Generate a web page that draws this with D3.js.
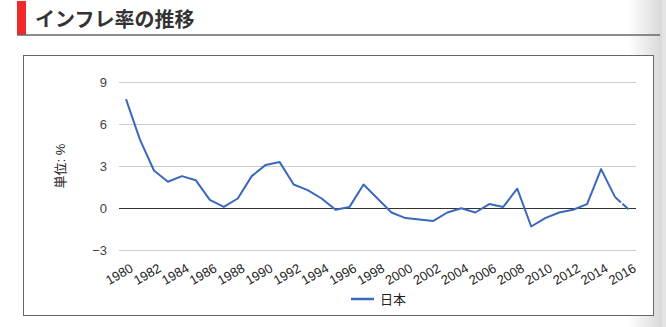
<!DOCTYPE html>
<html><head><meta charset="utf-8">
<script src="https://cdn.jsdelivr.net/npm/d3@7"></script>
<style>
html,body{margin:0;padding:0;background:#fff;overflow:hidden;}
svg{display:block;}
</style></head>
<body>
<svg id="c" width="666" height="327"></svg>
<script>
const title = "インフレ率の推移";
const years = ["1980","1981","1982","1983","1984","1985","1986","1987","1988","1989","1990","1991","1992","1993","1994","1995","1996","1997","1998","1999","2000","2001","2002","2003","2004","2005","2006","2007","2008","2009","2010","2011","2012","2013","2014","2015","2016"];
const japan = [7.8,4.9,2.7,1.9,2.3,2.0,0.6,0.1,0.7,2.3,3.1,3.3,1.7,1.3,0.7,-0.1,0.1,1.7,0.7,-0.3,-0.7,-0.8,-0.9,-0.3,0.0,-0.3,0.3,0.1,1.4,-1.3,-0.7,-0.3,-0.1,0.3,2.8,0.8,-0.1];
const yTicks = [-3,0,3,6,9];
const seriesName = "日本";
const yTitle = "単位: %";

const svg = d3.select("#c");
const font = "'Liberation Sans', Arial, 'Noto Sans CJK JP', sans-serif";
const lineColor = "#3a68bd";

// right-side shadow
const defs = svg.append("defs");
const g1 = defs.append("linearGradient").attr("id","sh").attr("x1","0").attr("x2","1");
g1.append("stop").attr("offset","0").attr("stop-color","#fff");
g1.append("stop").attr("offset","1").attr("stop-color","#d8d8d8");
svg.append("rect").attr("x",628).attr("y",0).attr("width",34).attr("height",327).attr("fill","url(#sh)");
svg.append("rect").attr("x",662).attr("y",0).attr("width",4).attr("height",327).attr("fill","#e4e4e4");

// header
svg.append("rect").attr("x",17).attr("y",1).attr("width",9).attr("height",34).attr("fill","#ee2a2a");
svg.append("line").attr("x1",17).attr("x2",660).attr("y1",35).attr("y2",35).attr("stroke","#666").attr("stroke-width",1.5);
svg.append("text").attr("x",35).attr("y",27).text(title)
  .attr("font-family","'Noto Sans CJK JP', sans-serif").attr("font-weight","bold")
  .attr("font-size",20).attr("fill","#333");

// chart box
svg.append("rect").attr("x",23.5).attr("y",55.5).attr("width",630).attr("height",260)
  .attr("fill","#fff").attr("stroke","#666").attr("stroke-width",1);

const x = d3.scalePoint().domain(years).range([119,636]).padding(0.5);
const y = d3.scaleLinear().domain([-3,9]).range([250.3,82.3]);

// gridlines
const grid = svg.append("g");
yTicks.forEach(t=>{
  grid.append("line").attr("x1",119).attr("x2",636).attr("y1",Math.round(y(t))+0.5).attr("y2",Math.round(y(t))+0.5)
    .attr("stroke", t===0 ? "#333" : "#ccc").attr("stroke-width",1);
});

// y axis labels via d3 axis
const yAxis = d3.axisLeft(y).tickValues(yTicks).tickSize(0).tickPadding(0).tickFormat(d3.format("d"));
const ya = svg.append("g").attr("transform","translate(107,0)").call(yAxis);
ya.select(".domain").remove();
ya.selectAll("text").attr("font-family",font).attr("font-size",13).attr("fill","#444").attr("dy","0.35em");

// x axis labels
const xAxis = d3.axisBottom(x).tickValues(years.filter((d,i)=>i%2===0)).tickSize(0).tickPadding(0);
const xa = svg.append("g").attr("transform","translate(0,263)").call(xAxis);
xa.select(".domain").remove();
xa.selectAll("text").attr("font-family",font).attr("font-size",13).attr("fill","#222")
  .attr("text-anchor","end").attr("dy","0.7em")
  .attr("transform","translate(3,0) rotate(-30)");

// y title
svg.append("text").attr("transform","translate(65,166) rotate(-90)").attr("text-anchor","middle")
  .attr("font-family",font).attr("font-size",13).attr("fill","#222").text(yTitle);

// line
const pts = years.map((d,i)=>[x(d), y(japan[i])]);
const line = d3.line();
svg.append("path").attr("d", line(pts.slice(0, pts.length-1))).attr("fill","none")
  .attr("stroke",lineColor).attr("stroke-width",2).attr("stroke-linejoin","round");
svg.append("path").attr("d", line(pts.slice(pts.length-2))).attr("fill","none")
  .attr("stroke",lineColor).attr("stroke-width",2).attr("stroke-dasharray","8,2");

// legend
svg.append("line").attr("x1",351).attr("x2",374).attr("y1",299).attr("y2",299).attr("stroke",lineColor).attr("stroke-width",2.5);
svg.append("text").attr("x",380).attr("y",303.5).attr("font-family",font).attr("font-size",13).attr("fill","#222").text(seriesName);
</script>
</body></html>
